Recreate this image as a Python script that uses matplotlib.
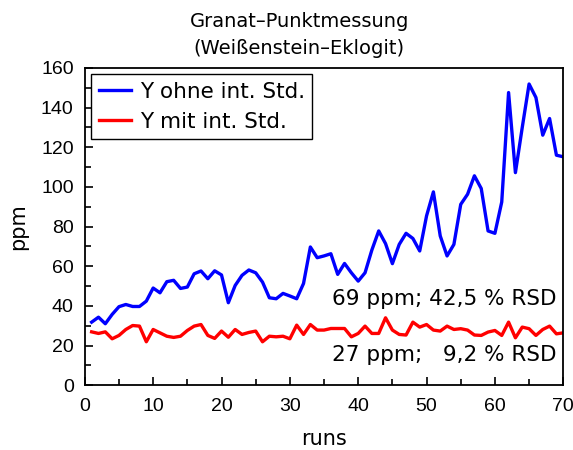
import matplotlib.pyplot as plt
import numpy as np
from matplotlib.ticker import MultipleLocator

runs = np.arange(1, 71)
y_ohne = [31.8, 34.3, 31.0, 35.7, 39.6, 40.7, 39.7, 39.7, 42.4, 49.0,
          46.6, 52.2, 52.9, 48.8, 49.5, 56.2, 57.6, 53.7, 57.7, 55.6,
          41.6, 50.3, 55.4, 58.1, 56.7, 52.0, 44.1, 43.6, 46.3, 45.0,
          43.6, 51.3, 69.7, 64.3, 65.2, 66.3, 55.9, 61.4, 56.7, 52.5,
          56.7, 68.2, 77.8, 71.4, 61.3, 71.0, 76.6, 74.0, 67.7, 85.4,
          97.5, 75.3, 65.2, 71.0, 91.2, 96.3, 105.6, 99.2, 77.8, 76.6,
          92.4, 147.6, 107.2, 130.0, 151.9, 145.1, 126.1, 134.5, 116.0, 115.2]
y_mit = [26.9, 26.1, 26.9, 23.4, 25.1, 28.1, 30.1, 29.8, 21.9, 28.1,
         26.4, 24.7, 24.1, 24.7, 27.6, 29.8, 30.6, 25.1, 23.6, 27.3,
         24.2, 28.1, 25.6, 26.6, 27.3, 21.9, 24.7, 24.4, 24.7, 23.4,
         30.3, 25.6, 30.6, 27.8, 27.8, 28.6, 28.6, 28.6, 24.4, 26.1,
         29.8, 26.1, 26.1, 34.0, 27.8, 25.6, 25.3, 31.8, 29.3, 30.6,
         27.8, 27.3, 29.8, 28.1, 28.5, 27.8, 25.3, 25.1, 26.8, 27.6,
         25.1, 31.8, 23.9, 29.3, 28.5, 25.1, 28.1, 29.8, 25.9, 26.4]

fig = plt.figure(figsize=(5.73, 4.5), dpi=100)
ax = fig.add_axes([0.148, 0.144, 0.835, 0.705])

ax.plot(runs, y_ohne, color='#0000ff', linewidth=2.4, label='Y ohne int. Std.')
ax.plot(runs, y_mit, color='#ff0000', linewidth=2.4, label='Y mit int. Std.')

ax.set_xlim(0, 70)
ax.set_ylim(0, 160)
ax.xaxis.set_major_locator(MultipleLocator(10))
ax.xaxis.set_minor_locator(MultipleLocator(5))
ax.yaxis.set_major_locator(MultipleLocator(20))
ax.yaxis.set_minor_locator(MultipleLocator(10))
ax.tick_params(which='both', direction='in', top=False, right=False)
ax.tick_params(which='major', length=6, width=1.2)
ax.tick_params(which='minor', length=4, width=1.2)
ax.tick_params(axis='y', pad=8)
ax.tick_params(axis='x', pad=9)
for lab in ax.get_xticklabels() + ax.get_yticklabels():
    lab.set_family('Liberation Sans')
    lab.set_fontsize(14)
for s in ax.spines.values():
    s.set_linewidth(1.3)

ax.set_xlabel('runs', fontsize=15, labelpad=10)
ax.set_ylabel('ppm', fontsize=15, labelpad=9)
fig.text(0.522, 0.922, 'Granat\u2013Punktmessung\n(Weißenstein\u2013Eklogit)',
         ha='center', va='center', fontsize=14, linespacing=1.55)

leg = ax.legend(loc='upper left', fontsize=15.5, fancybox=False, edgecolor='black',
                framealpha=1, handlelength=1.5, borderpad=0.35, labelspacing=0.45,
                handletextpad=0.4, borderaxespad=0.3)
leg.get_frame().set_linewidth(1.0)

ax.text(69, 43.5, '69 ppm; 42,5 % RSD', ha='right', va='center', fontsize=15.5)
ax.text(69, 15, '27 ppm;   9,2 % RSD', ha='right', va='center', fontsize=15.5)

fig.savefig('out.png', dpi=100)
